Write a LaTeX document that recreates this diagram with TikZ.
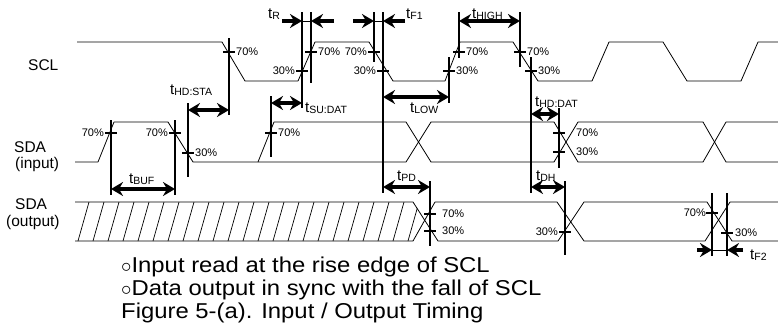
\documentclass[tikz,border=0pt]{standalone}
\usepackage{fontspec}
\setmainfont{Liberation Sans}
\newfontfamily\capfont[FakeStretch=1.11]{Liberation Sans}
\usetikzlibrary{arrows.meta}

\newcommand{\tsig}[1]{t\raisebox{-1.5pt}{\fontsize{10.5}{10.5}\selectfont #1}}

\begin{document}
\begin{tikzpicture}[x=1pt, y=-1pt, >=Stealth]
\tikzset{
  wave/.style={line width=0.8pt, line join=round},
  hatch/.style={line width=0.7pt},
  guide/.style={line width=2pt},
  lvltick/.style={line width=2pt},
  headtip/.tip={Stealth[length=12pt,width=14pt,inset=4pt]},
  tspan/.style={line width=3.2pt, arrows={headtip-headtip}},
  inarrow/.style={line width=3.2pt, arrows={-headtip}},
  sig/.style={font=\fontsize{15.5}{17}\selectfont, inner sep=0pt, anchor=base west},
  tlab/.style={font=\fontsize{15}{17}\selectfont, inner sep=0pt, anchor=base west},
  pct/.style={font=\fontsize{11}{12}\selectfont, inner sep=0pt},
  capline/.style={font=\capfont\fontsize{21.5}{24}\selectfont, inner sep=0pt, anchor=base west},
}
\useasboundingbox (0,0) rectangle (778,333);

\node[sig] (scl) at (28,70) {SCL};
\node[sig] (sdain) at (14,152) {SDA};
\node[sig] (sdainb) at (15,168) {(input)};
\node[sig] (sdaout) at (15,209) {SDA};
\node[sig] (sdaoutb) at (6,226) {(output)};

% waveforms
\draw[wave] (77,42) -- (222,42) -- (245,81) -- (298,81) -- (315,42) -- (369,42) -- (393,81)
  -- (445,81) -- (460,42) -- (513,42) -- (538,81) -- (592,81) -- (609,42) -- (663,42)
  -- (687,81) -- (741,81) -- (758,42) -- (778,42);

\draw[wave] (75,162) -- (98,162) -- (114,122) -- (168,122) -- (193,162) -- (406,162)
  -- (431,122) -- (554,122) -- (578,162) -- (703,162) -- (726,122) -- (778,122);
\draw[wave] (258,162) -- (274,122) -- (406,122) -- (431,162) -- (554,162) -- (578,122)
  -- (703,122) -- (726,162) -- (778,162);

\draw[wave] (75,202) -- (413,202) -- (438,241) -- (558,241) -- (584,202) -- (707,202)
  -- (732,241) -- (778,241);
\draw[wave] (75,241) -- (413,241) -- (435,202) -- (557,202) -- (584,241) -- (705,241)
  -- (730,202) -- (778,202);
\begin{scope}
  \clip (75,202) -- (413,202) -- (426,221.5) -- (413,241) -- (75,241) -- cycle;
  \foreach \x in {63,78,...,423}
    \draw[hatch] (\x,241) -- ++(11,-39);
\end{scope}

% reference lines
\draw[guide] (229,38) -- (229,115);
\draw[guide] (188,103) -- (188,177);
\draw[guide] (111,120) -- (111,195);
\draw[guide] (175,120) -- (175,195);
\draw[guide] (271,96) -- (271,157);
\draw[guide] (302,12) -- (302,108);
\draw[guide] (311,12) -- (311,83);
\draw[guide] (374,12) -- (374,62);
\draw[guide] (383,12) -- (383,193);
\draw[guide] (449,57) -- (449,103);
\draw[guide] (459,12) -- (459,58);
\draw[guide] (520,12) -- (520,67);
\draw[guide] (531,57) -- (531,193);
\draw[guide] (559,108) -- (559,168);
\draw[guide] (430,181) -- (430,246);
\draw[guide] (565,181) -- (565,255);
\draw[guide] (712,193) -- (712,256);
\draw[guide] (727,193) -- (727,256);

\foreach \x/\y in {229/52, 302/71, 311/52, 374/52, 383/71, 449/71, 459/52, 520/52, 531/71,
    111/133, 175/133, 188/153, 271/133, 559/133, 559/152,
    430/214, 430/231, 565/232, 712/213, 727/233}
  \draw[lvltick] (\x-6,\y) -- (\x+6,\y);

\node[pct, anchor=west] (p1) at (236,52) {70\%};
\node[pct, anchor=east] (p2) at (295,71) {30\%};
\node[pct, anchor=west] (p3) at (318,52) {70\%};
\node[pct, anchor=east] (p4) at (367,52) {70\%};
\node[pct, anchor=east] (p5) at (376,71) {30\%};
\node[pct, anchor=west] (p6) at (456,71) {30\%};
\node[pct, anchor=west] (p7) at (466,52) {70\%};
\node[pct, anchor=west] (p8) at (527,52) {70\%};
\node[pct, anchor=west] (p9) at (538,71) {30\%};

\node[pct, anchor=east] (p10) at (104,133) {70\%};
\node[pct, anchor=east] (p11) at (168,133) {70\%};
\node[pct, anchor=west] (p12) at (195,153) {30\%};
\node[pct, anchor=west] (p13) at (278,133) {70\%};
\node[pct, anchor=west] (p14) at (576,133) {70\%};
\node[pct, anchor=west] (p15) at (576,152) {30\%};

\node[pct, anchor=west] (p16) at (442,214) {70\%};
\node[pct, anchor=west] (p17) at (442,231) {30\%};
\node[pct, anchor=east] (p18) at (558,232) {30\%};
\node[pct, anchor=east] (p19) at (706,213) {70\%};
\node[pct, anchor=west] (p20) at (735,233) {30\%};

% timing arrows
\draw[inarrow] (282,21) -- (302,21);
\draw[inarrow] (334,21) -- (311,21);
\draw[wave] (302,21) -- (311,21);
\draw[inarrow] (353,21) -- (374,21);
\draw[inarrow] (405,21) -- (383,21);
\draw[wave] (374,21) -- (383,21);
\draw[tspan] (459,21) -- (520,21);
\draw[tspan] (188,110) -- (229,110);
\draw[tspan] (271,103) -- (302,103);
\draw[tspan] (383,97) -- (449,97);
\draw[tspan] (111,189) -- (175,189);
\draw[tspan] (531,114) -- (559,114);
\draw[tspan] (383,187) -- (430,187);
\draw[tspan] (531,187) -- (565,187);
\draw[inarrow] (697,250) -- (712,250);
\draw[inarrow] (743,250) -- (727,250);
\draw[wave] (712,250) -- (727,250);

\node[tlab] (tr) at (268,18) {\tsig{R}};
\node[tlab] (tfa) at (406,18) {\tsig{F1}};
\node[tlab] (thigh) at (472,18) {\tsig{HIGH}};
\node[tlab] (thdsta) at (170,94) {\tsig{HD:STA}};
\node[tlab] (tsudat) at (305,112) {\tsig{SU:DAT}};
\node[tlab] (tlow) at (410,112) {\tsig{LOW}};
\node[tlab] (tbuf) at (129,183) {\tsig{BUF}};
\node[tlab] (thddat) at (535,106) {\tsig{HD:DAT}};
\node[tlab] (tpd) at (397,180) {\tsig{PD}};
\node[tlab] (tdh) at (536,180) {\tsig{DH}};
\node[tlab] (tfb) at (750,259) {\tsig{F2}};

\node[capline] (cap1) at (121,272) {$\circ$Input read at the rise edge of SCL};
\node[capline] (cap2) at (121,295) {$\circ$Data output in sync with the fall of SCL};
\node[capline] (cap3) at (121,318) {Figure 5-(a). Input / Output Timing};

\end{tikzpicture}
\end{document}
